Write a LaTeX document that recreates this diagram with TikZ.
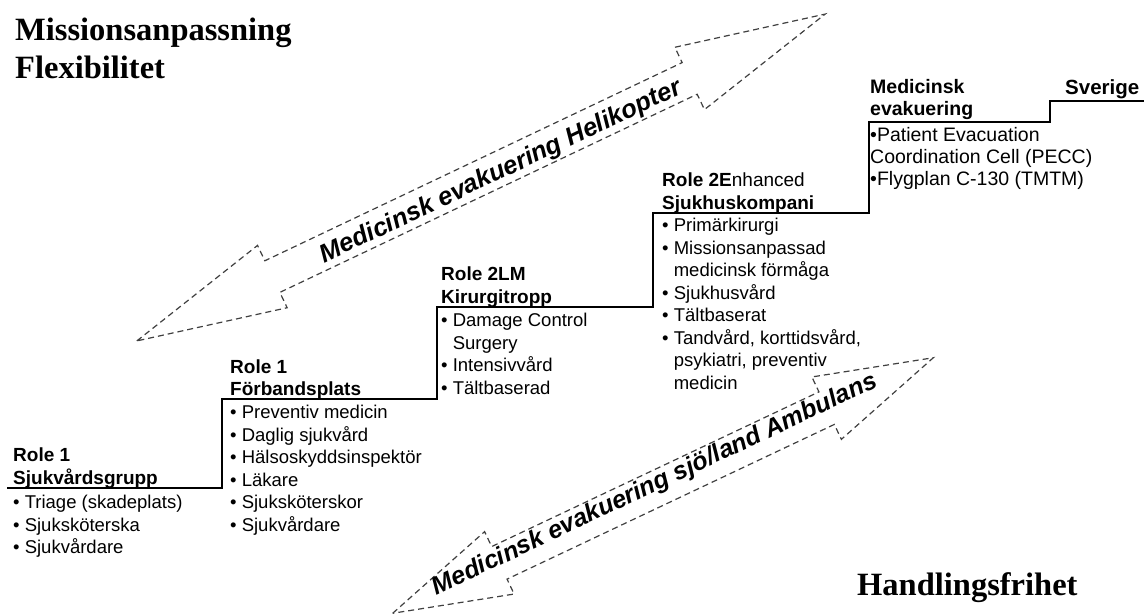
\documentclass[tikz,border=0pt]{standalone}
\usepackage{fontspec}
\setmainfont{Liberation Sans}
\newfontfamily\timesf{Liberation Serif}
\begin{document}
\begin{tikzpicture}[x=1pt,y=-1pt,
  reg/.style={anchor=base west, inner sep=0pt, font=\fontsize{18.5}{22}\selectfont},
  regE/.style={anchor=base west, inner sep=0pt, font=\fontsize{19.5}{22}\selectfont},
  hd/.style={anchor=base west, inner sep=0pt, font=\fontsize{19}{22}\selectfont\bfseries},
  hdE/.style={anchor=base west, inner sep=0pt, font=\fontsize{19.5}{22}\selectfont\bfseries},
  title/.style={anchor=base west, inner sep=0pt, font=\fontsize{32.5}{37}\timesf\bfseries},
  stair/.style={draw=black, line width=1.2pt},
  evac/.style={draw=black!75, line width=1.2pt, dash pattern=on 6pt off 4pt},
  evactext/.style={inner sep=0pt, font=\fontsize{25.5}{28}\selectfont\bfseries\itshape}]
\useasboundingbox (0,0) rectangle (1144,615);
\fill[white] (0,0) rectangle (1144,615);

% titles
\node[title] (t1) at (15,41) {Missionsanpassning};
\node[title] (t2) at (15,79) {Flexibilitet};
\node[title] (t3) at (857,595) {Handlingsfrihet};

% staircase
\draw[stair] (7,488) -- (222,488) -- (222,399) -- (437,399) -- (437,307)
  -- (653,307) -- (653,213) -- (869,213) -- (869,122) -- (1050,122)
  -- (1050,101) -- (1144,101);

% Role 1 Sjukvardsgrupp
\node[hd] (a1) at (13,461) {Role 1};
\node[hd] (a2) at (13,484) {Sjukvårdsgrupp};
\node[reg] (a3) at (13,508.5) {• Triage (skadeplats)};
\node[reg] (a4) at (13,531) {• Sjuksköterska};
\node[reg] (a5) at (13,553.5) {• Sjukvårdare};

% Role 1 Forbandsplats
\node[hd] (b1) at (230,373) {Role 1};
\node[hd] (b2) at (230,395.5) {Förbandsplats};
\node[reg] (b3) at (230,418.5) {• Preventiv medicin};
\node[reg] (b4) at (230,441) {• Daglig sjukvård};
\node[reg] (b5) at (230,463.5) {• Hälsoskyddsinspektör};
\node[reg] (b6) at (230,486) {• Läkare};
\node[reg] (b7) at (230,508.5) {• Sjuksköterskor};
\node[reg] (b8) at (230,531) {• Sjukvårdare};

% Role 2LM
\node[hd] (c1) at (441,280.5) {Role 2LM};
\node[hd] (c2) at (441,303.5) {Kirurgitropp};
\node[reg] (c3) at (441,326.5) {• Damage Control};
\node[reg] (c4) at (441,349) {\phantom{• }Surgery};
\node[reg] (c5) at (441,371.5) {• Intensivvård};
\node[reg] (c6) at (441,394) {• Tältbaserad};

% Role 2E
\node[hd] (d1) at (662,186.5) {Role 2E\mdseries nhanced};
\node[hd] (d2) at (662,209.5) {Sjukhuskompani};
\node[reg] (d3) at (662,231.5) {• Primärkirurgi};
\node[reg] (d4) at (662,254) {• Missionsanpassad};
\node[reg] (d5) at (662,276.5) {\phantom{• }medicinsk förmåga};
\node[reg] (d6) at (662,299) {• Sjukhusvård};
\node[reg] (d7) at (662,321.5) {• Tältbaserat};
\node[reg] (d8) at (662,344) {• Tandvård, korttidsvård,};
\node[reg] (d9) at (662,366.5) {\phantom{• }psykiatri, preventiv};
\node[reg] (d10) at (662,389) {\phantom{• }medicin};

% Medicinsk evakuering
\node[hdE] (e1) at (870,93.5) {Medicinsk};
\node[hdE] (e2) at (870,116) {evakuering};
\node[regE] (e3) at (870,141.5) {•Patient Evacuation};
\node[regE] (e4) at (870,163.5) {Coordination Cell (PECC)};
\node[regE] (e5) at (870,185.5) {•Flygplan C-130 (TMTM)};
\node[hdE, font=\fontsize{20.5}{22}\selectfont\bfseries] (s1) at (1065,95) {Sverige};

% helicopter double arrow
\begin{scope}[shift={(481,177.5)}, rotate=25.4]
\draw[evac] (-381,0) -- (-231,-34.5) -- (-231,-17.5) -- (231,-17.5) -- (231,-34.5)
  -- (381,0) -- (231,34.5) -- (231,17.5) -- (-231,17.5) -- (-231,34.5) -- cycle;
\end{scope}
\node[evactext, rotate=25.4] (heli) at (501,172) {Medicinsk evakuering Helikopter};

% ambulance double arrow
\begin{scope}[shift={(663,485.5)}, rotate=25.3]
\draw[evac] (-299,0) -- (-181,-34.5) -- (-181,-18) -- (181,-18) -- (181,-34.5)
  -- (299,0) -- (181,34.5) -- (181,18) -- (-181,18) -- (-181,34.5) -- cycle;
\end{scope}
\node[evactext, font=\fontsize{25}{28}\selectfont\bfseries\itshape, rotate=25.3] (amb) at (655,485) {Medicinsk evakuering sjö/land Ambulans};
\end{tikzpicture}
\end{document}
